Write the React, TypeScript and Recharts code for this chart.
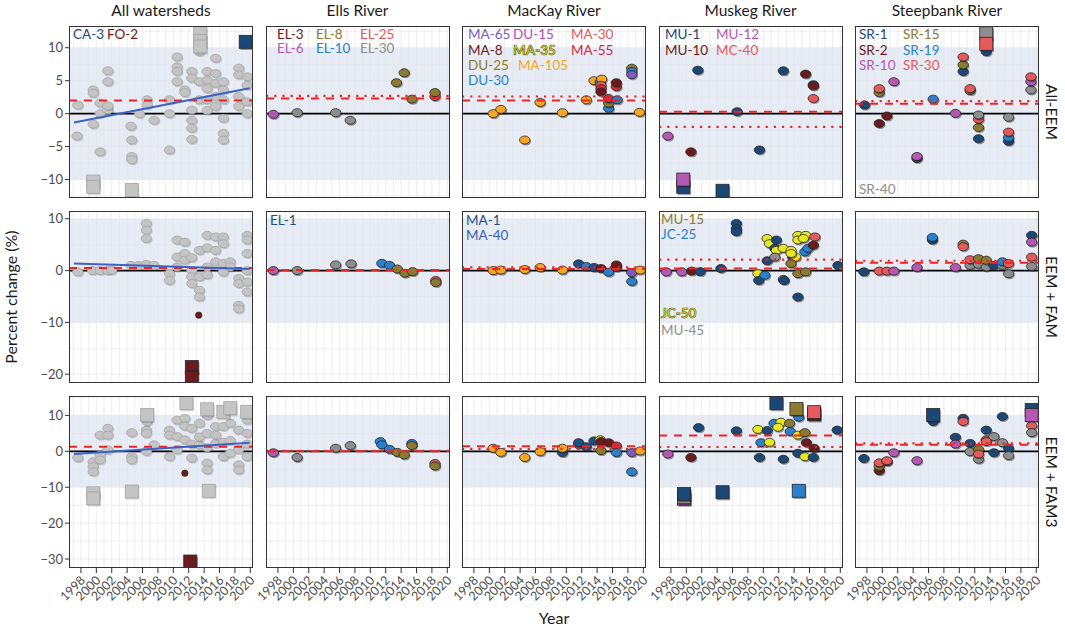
import React from 'react';
import { ScatterChart, Scatter, XAxis, YAxis, CartesianGrid, ReferenceLine, ReferenceArea } from 'recharts';

type Pt = [number, number, string, string?];

// ---------- categories / ticks ----------
const columnTitles = ['All watersheds', 'Ells River', 'MacKay River', 'Muskeg River', 'Steepbank River'];
const rowTitles = ['All-EEM', 'EEM + FAM', 'EEM + FAM3'];
const yearTicks = [1998, 2000, 2002, 2004, 2006, 2008, 2010, 2012, 2014, 2016, 2018, 2020];
const yearGrid = [1997, 1998, 1999, 2000, 2001, 2002, 2003, 2004, 2005, 2006, 2007, 2008, 2009, 2010, 2011, 2012, 2013, 2014, 2015, 2016, 2017, 2018, 2019, 2020];
const rowTicks = [[-10, -5, 0, 5, 10], [-20, -10, 0, 10], [-30, -20, -10, 0, 10]];
const rowMinor = [[-12.5, -7.5, -2.5, 2.5, 7.5, 12.5], [-15, -5, 5], [-25, -15, -5, 5, 15]];
const rowDomains: [number, number][] = [[-12.8, 13.3], [-21.7, 11.5], [-32.5, 15.4]];
const xDomain: [number, number] = [1996.45, 2020.35];

// ---------- reference values ----------
const dashedMeans = [[2.0, 2.3, 2.0, 0.3, 1.5], [0.5, 0.1, 0.3, 0.4, 1.5], [1.3, 0.0, 1.4, 4.4, 1.8]];
const dottedMeans: (number | null)[][] = [[null, 2.7, 2.6, -2.0, 1.9], [null, null, 0.6, 2.1, 1.9], [null, 0.1, 0.7, 1.2, 2.2]];
const trendStart = [[1997.1, -1.35], [1997.1, 1.35], [1997.1, -0.75]];
const trendEnd = [[2019.9, 3.85], [2019.9, 0.3], [2019.9, 2.4]];

// ---------- All watersheds (gray) ----------
const allEemGray = [[1997.6, 1.3], [1997.5, -3.4], [1999.6, 3.6], [1999.6, 3.1], [1999.6, -1.6], [2000.5, 1.6], [2000.5, -5.8], [2000.5, 0], [2001.5, 6.5], [2001.5, 4.85], [2001.5, 0.55], [2001.5, 1.2], [2004.5, -1.9], [2004.6, -4.0], [2004.6, -6.5], [2004.6, -7.0], [2005.6, 0], [2006.6, 2.1], [2006.6, 1.3], [2007.5, -1.0], [2009.5, 0], [2009.5, 2.1], [2009.5, -5.5], [2010.5, 8.6], [2010.5, 7.1], [2010.5, 6.4], [2010.5, 4.85], [2011.5, 3.6], [2011.5, 3.2], [2012.4, 6.4], [2012.4, 5.4], [2012.4, 0.55], [2012.4, -1.0], [2012.4, -2.2], [2012.4, -3.9], [2013.4, 9.4], [2013.4, 4.85], [2013.4, 2.1], [2014.4, 6.4], [2014.4, 5.1], [2014.4, 3.8], [2014.4, 2.1], [2014.4, 0.5], [2015.5, 8.4], [2015.5, 6.1], [2015.5, 4.6], [2015.5, 2.6], [2015.5, 1.1], [2016.5, 4.85], [2016.5, 3.6], [2016.5, 2.1], [2016.5, -0.7], [2016.5, -3.0], [2016.5, -4.0], [2018.5, 6.9], [2018.5, 5.9], [2018.5, 2.6], [2018.5, 1.1], [2019.6, 5.6], [2019.6, 4.3], [2019.6, 1.8], [2019.6, 0]];
const allEemGraySq = [[2013.5, 12.2], [2013.5, 11.0], [2013.5, 10.2], [1999.6, -10.3], [1999.6, -11.1], [2004.6, -11.6]];
const allEemSites: Pt[] = [[2019.4, 10.9, 'CA-3', 's']];

const allFamGray = [[1997.6, -0.25], [1999.5, 0], [2000.5, 0], [2001.5, 0], [2002.0, 0.1], [2004.5, 1.0], [2005.5, 1.0], [2006.5, 1.2], [2007.5, 1.0], [2006.5, 9.1], [2006.5, 7.8], [2006.5, 6.2], [2009.5, -0.6], [2009.5, -1.9], [2010.5, 5.9], [2010.5, 2.6], [2010.5, 0.7], [2011.5, 5.5], [2011.5, 3.3], [2011.5, 2.0], [2012.4, 0], [2012.4, -1.2], [2012.4, -2.5], [2012.4, 2.5], [2013.4, 3.9], [2013.4, -1.2], [2013.4, -3.8], [2013.4, -5.1], [2014.4, 6.8], [2014.4, 4.4], [2014.4, 0.7], [2014.4, -0.8], [2015.5, 6.5], [2015.5, 3.9], [2015.5, 1.7], [2016.5, 6.5], [2016.5, 5.2], [2016.5, 1.35], [2016.5, -0.3], [2017.4, 1.7], [2017.4, 0.7], [2018.5, -1.5], [2018.5, -2.5], [2018.5, -6.7], [2018.5, -7.4], [2019.6, 6.8], [2019.6, 5.9], [2019.6, 3.3], [2019.6, 0], [2019.6, -2.2], [2019.6, -4.1]];
const allFamSites: Pt[] = [[2013.3, -8.6, 'FO-2', 'd'], [2012.4, -18.6, 'FO-2', 's'], [2012.4, -20.6, 'FO-2', 's']];

const allFam3Gray = [[1997.6, -1.8], [1999.6, -2.9], [1999.6, -4.3], [1999.6, -5.7], [2000.5, 4.5], [2000.5, -1.0], [2000.5, -2.4], [2001.5, 6.4], [2001.5, 4.5], [2001.5, 0.4], [2004.6, 5.2], [2004.6, -1.5], [2004.6, -2.4], [2006.5, 5.9], [2006.5, 5.0], [2006.5, 0], [2007.5, 1.8], [2006.6, 8.3], [2009.5, 5.9], [2009.5, 4.5], [2009.5, -1.5], [2010.5, 8.7], [2010.5, 4.1], [2010.5, 0.4], [2011.5, 9.2], [2011.5, 3.2], [2011.5, 7.0], [2012.4, 6.4], [2012.4, -1.9], [2012.4, 2.0], [2013.4, 7.8], [2013.4, 1.8], [2013.4, 4.0], [2014.4, 10.0], [2014.4, 5.0], [2014.4, -3.3], [2014.4, -5.2], [2014.4, 1.0], [2015.5, 6.9], [2015.5, 2.2], [2015.5, 4.5], [2016.5, 6.9], [2016.5, -1.5], [2016.5, 2.5], [2017.4, 7.8], [2017.4, -0.55], [2017.4, 3.0], [2018.5, 5.9], [2018.5, -3.8], [2018.5, -5.2], [2018.5, 0.5], [2019.6, 8.7], [2019.6, 5.0], [2019.6, -1.5], [2019.6, 2.0]];
const allFam3GraySq = [[2006.6, 10.1], [2011.7, 13.4], [2014.4, 11.7], [2016.5, 11.0], [2017.4, 12.0], [2019.6, 11.0], [1999.6, -11.7], [1999.6, -13.1], [2004.6, -11.2], [2014.6, -11.0]];
const allFam3Sites: Pt[] = [[2011.5, -6.1, 'FO-2', 'd'], [2012.2, -30.7, 'FO-2', 's']];

// ---------- Ells River ----------
const ellsEem: Pt[] = [[1997.4, -0.1, 'EL-6'], [2000.5, 0.15, 'EL-30'], [2005.5, 0.15, 'EL-30'], [2007.4, -1.0, 'EL-30'], [2013.4, 4.7, 'EL-8'], [2014.4, 6.2, 'EL-8'], [2015.4, 2.2, 'EL-8'], [2018.4, 2.6, 'EL-25'], [2018.4, 3.2, 'EL-8']];
const ellsFam: Pt[] = [[1997.4, 0, 'EL-6'], [2000.5, 0, 'EL-30'], [2005.5, 1.1, 'EL-30'], [2007.5, 1.3, 'EL-30'], [2011.5, 1.4, 'EL-10'], [2012.5, 1.0, 'EL-10'], [2013.5, 0.3, 'EL-8'], [2014.5, -0.5, 'EL-8'], [2015.5, -0.2, 'EL-8'], [2018.5, -1.9, 'EL-25'], [2018.5, -2.3, 'EL-8']];
const ellsFam3: Pt[] = [[1997.4, -0.4, 'EL-6'], [2000.5, -1.7, 'EL-30'], [2005.5, 0.85, 'EL-30'], [2007.4, 1.6, 'EL-30'], [2011.3, 2.7, 'EL-10'], [2011.5, 1.8, 'EL-10'], [2012.5, 0.55, 'EL-10'], [2013.5, -0.3, 'EL-8'], [2014.4, -1.0, 'EL-8'], [2015.4, 2.2, 'EL-10'], [2015.4, 1.6, 'EL-8'], [2018.4, -3.4, 'EL-25'], [2018.4, -4.1, 'EL-8']];

// ---------- MacKay River ----------
const mackayEem: Pt[] = [[2000.5, 0, 'MA-105'], [2001.5, 0.65, 'MA-105'], [2004.6, -4.0, 'MA-105'], [2006.6, 1.7, 'MA-105'], [2009.5, 0.15, 'MA-105'], [2012.6, 2.1, 'MA-105'], [2013.6, 5.0, 'MA-105'], [2014.4, 4.8, 'DU-30'], [2014.6, 5.25, 'MA-105'], [2014.5, 4.3, 'MA-30'], [2014.5, 3.8, 'MA-55'], [2014.5, 3.3, 'MA-8'], [2015.5, 0.8, 'DU-30'], [2015.5, 1.6, 'DU-25'], [2015.5, 2.3, 'MA-55'], [2016.6, 2.1, 'DU-30'], [2016.5, 4.1, 'MA-55'], [2016.5, 4.7, 'MA-8'], [2018.5, 6.9, 'DU-25'], [2018.5, 6.4, 'DU-30'], [2018.5, 5.9, 'MA-65'], [2019.5, 0.2, 'MA-105']];
const mackayFam: Pt[] = [[2000.5, 0, 'MA-105'], [2001.5, 0.1, 'MA-105'], [2004.6, 0.2, 'MA-105'], [2006.6, 0.6, 'MA-105'], [2009.5, 0.1, 'MA-105'], [2011.6, 1.3, 'MA-1'], [2012.6, 0.8, 'DU-30'], [2013.6, 0.6, 'MA-1'], [2014.5, 0.4, 'MA-8'], [2015.5, -0.3, 'DU-30'], [2016.5, 0.6, 'MA-55'], [2016.5, 1.1, 'MA-8'], [2018.5, -2.1, 'DU-30'], [2018.5, -0.4, 'MA-65'], [2019.6, 0.1, 'MA-105']];
const mackayFam3: Pt[] = [[2000.5, 0.85, 'MA-105'], [2001.5, -0.3, 'MA-105'], [2004.6, -1.7, 'MA-105'], [2006.6, -0.1, 'MA-105'], [2009.5, -0.35, 'MA-1'], [2009.5, 0.85, 'MA-105'], [2011.6, 1.9, 'DU-30'], [2011.6, 2.4, 'MA-1'], [2012.6, 1.3, 'MA-1'], [2013.6, 2.9, 'MA-1'], [2014.5, 0.2, 'DU-25'], [2014.4, 3.2, 'MA-35'], [2014.5, 2.7, 'MA-8'], [2015.5, 2.4, 'MA-8'], [2016.5, 1.5, 'MA-55'], [2016.5, -0.35, 'DU-30'], [2018.5, -0.35, 'MA-65'], [2018.5, -5.7, 'DU-30'], [2019.6, 0.1, 'MA-105']];

// ---------- Muskeg River ----------
const muskegEem: Pt[] = [[1997.6, -3.4, 'MU-12'], [2000.6, -5.8, 'MU-10'], [2001.5, 6.6, 'MU-1'], [2006.6, 0.3, 'MU-1'], [2009.5, -5.5, 'MU-1'], [2012.6, 6.5, 'MU-1'], [2015.5, 6.0, 'MU-10'], [2016.5, 4.4, 'MU-1'], [2016.5, 4.2, 'MU-10'], [2016.5, 2.3, 'MC-40'], [1999.6, -11.1, 'MU-1', 's'], [1999.6, -10.0, 'MU-12', 's'], [2004.7, -11.7, 'MU-1', 's']];
const muskegFam: Pt[] = [[1997.4, -0.25, 'MU-12'], [1999.4, -0.25, 'MU-12'], [2000.7, -0.1, 'MU-10'], [2001.8, -0.2, 'MU-1'], [2004.5, 0.4, 'MU-1'], [2006.5, 9.1, 'MU-1'], [2006.5, 8.1, 'MU-1'], [2006.5, 7.5, 'MU-1'], [2009.3, -0.6, 'JC-50'], [2009.4, -1.9, 'MU-1'], [2010.2, -0.9, 'JC-25'], [2010.5, 1.9, 'MU-1'], [2010.5, 6.2, 'JC-50'], [2010.8, 5.2, 'JC-50'], [2011.7, 5.9, 'MU-1'], [2011.5, 4.3, 'MU-1'], [2011.7, 3.9, 'JC-50'], [2011.5, 2.6, 'MU-45'], [2012.6, 4.3, 'JC-50'], [2012.6, -1.7, 'MU-45'], [2012.7, -1.9, 'MU-1'], [2013.8, 2.6, 'MU-1'], [2014.2, 2.6, 'JC-50'], [2013.6, 3.9, 'JC-50'], [2013.6, 3.3, 'JC-50'], [2013.6, 1.35, 'MU-15'], [2014.5, 6.8, 'JC-50'], [2014.5, 5.9, 'JC-50'], [2015.5, 6.8, 'JC-50'], [2015.2, 6.2, 'JC-50'], [2015.4, 3.6, 'JC-25'], [2015.8, 4.3, 'JC-25'], [2016.7, 6.5, 'MC-40'], [2016.5, 4.9, 'MU-10'], [2014.5, -0.6, 'MU-15'], [2015.5, -0.25, 'MU-15'], [2014.5, -5.1, 'MU-1'], [2019.7, 1.0, 'MU-1']];
const muskegFam3: Pt[] = [[1997.6, -0.75, 'MU-12'], [2000.6, -1.7, 'MU-10'], [2001.6, 6.6, 'MU-1'], [2006.5, 5.7, 'MU-1'], [2009.3, 6.1, 'JC-50'], [2010.5, 5.8, 'MU-1'], [2009.7, 2.4, 'JC-25'], [2010.8, 2.5, 'JC-50'], [2009.5, -1.7, 'MU-1'], [2011.4, 7.8, 'JC-25'], [2012.3, 8.1, 'JC-50'], [2011.9, 6.7, 'JC-50'], [2012.6, -2.2, 'MU-1'], [2014.6, 9.5, 'JC-25'], [2013.4, 7.8, 'MU-15'], [2013.5, 5.5, 'JC-25'], [2014.5, 4.5, 'JC-50'], [2015.4, 5.2, 'MU-15'], [2015.6, 2.4, 'MU-10'], [2014.5, -0.55, 'MU-1'], [2015.4, -1.5, 'JC-50'], [2016.5, -1.7, 'MU-1'], [2016.6, 0.85, 'MU-10'], [2019.6, 5.9, 'MU-1'], [2011.7, 13.4, 'MU-1', 's'], [2014.3, 11.8, 'MU-15', 's'], [2016.6, 10.3, 'MU-10', 's'], [2016.6, 10.9, 'MC-40', 's'], [1999.7, -13.2, 'MU-12', 's'], [1999.7, -12.8, 'MU-45', 's'], [1999.7, -11.9, 'MU-1', 's'], [2004.7, -11.4, 'MU-1', 's'], [2014.6, -11.0, 'JC-25', 's']];

// ---------- Steepbank River ----------
const steepEem: Pt[] = [[1997.7, 1.3, 'SR-1'], [1999.6, 3.2, 'SR-15'], [1999.6, 3.8, 'SR-30'], [1999.6, -1.5, 'SR-2'], [2000.6, -0.35, 'SR-2'], [2001.5, 4.85, 'SR-10'], [2004.5, -6.8, 'SR-1'], [2004.5, -6.5, 'SR-10'], [2006.6, 2.2, 'SR-19'], [2009.5, 0.05, 'SR-10'], [2010.5, 6.4, 'SR-1'], [2010.5, 7.4, 'SR-15'], [2010.5, 8.6, 'SR-30'], [2011.4, 3.5, 'SR-15'], [2011.4, 3.8, 'SR-30'], [2012.5, -3.8, 'SR-1'], [2012.5, -2.1, 'SR-15'], [2012.5, -0.85, 'SR-30'], [2012.5, -0.2, 'SR-40'], [2013.5, 9.4, 'SR-1'], [2013.5, 12.2, 'SR-40', 's'], [2013.5, 10.6, 'SR-30', 's'], [2016.4, -4.2, 'SR-1'], [2016.4, -3.6, 'SR-19'], [2016.4, -2.8, 'SR-30'], [2016.4, -0.55, 'SR-40'], [2019.3, 3.6, 'SR-40'], [2019.3, 4.85, 'SR-10'], [2019.3, 5.6, 'SR-30']];
const steepFam: Pt[] = [[1997.6, -0.25, 'SR-1'], [1999.6, -0.1, 'SR-30'], [2000.6, -0.1, 'SR-30'], [2001.5, -0.1, 'SR-10'], [2004.5, 0.6, 'SR-10'], [2006.5, 5.9, 'SR-1'], [2006.5, 6.4, 'SR-19'], [2009.5, 0.6, 'SR-10'], [2010.5, 5.1, 'SR-15'], [2010.5, 4.6, 'SR-30'], [2011.4, 1.0, 'SR-40'], [2011.4, 2.1, 'SR-30'], [2012.5, 1.2, 'SR-40'], [2012.5, 2.3, 'SR-15'], [2013.5, 0.7, 'SR-40'], [2013.5, 2.0, 'SR-15'], [2014.5, 1.0, 'SR-1'], [2015.6, 1.0, 'SR-40'], [2015.6, 1.7, 'SR-19'], [2016.4, -0.6, 'SR-40'], [2016.4, 1.35, 'SR-30'], [2019.4, 0.8, 'SR-40'], [2019.4, 2.6, 'SR-30'], [2019.4, 6.8, 'SR-1'], [2019.4, 5.5, 'SR-10']];
const steepFam3: Pt[] = [[1997.6, -2.0, 'SR-1'], [1999.6, -5.4, 'SR-2'], [1999.6, -4.2, 'SR-15'], [1999.6, -3.2, 'SR-30'], [2000.6, -2.9, 'SR-15'], [2000.6, -2.6, 'SR-30'], [2001.5, -0.4, 'SR-10'], [2004.5, -2.6, 'SR-10'], [2006.6, 8.3, 'SR-1'], [2006.6, 10.1, 'SR-1', 's'], [2010.5, 9.2, 'SR-1'], [2010.5, 8.3, 'SR-30'], [2009.5, 3.9, 'SR-1'], [2009.5, 2.0, 'SR-10'], [2011.4, 2.2, 'SR-1'], [2011.4, -0.1, 'SR-40'], [2012.5, -2.2, 'SR-40'], [2012.5, 0.5, 'SR-15'], [2012.5, -0.75, 'SR-30'], [2013.5, 5.9, 'SR-1'], [2013.5, 3.2, 'SR-15'], [2013.5, 2.7, 'SR-30'], [2014.5, 4.1, 'SR-40'], [2014.5, -0.4, 'SR-1'], [2015.6, 9.7, 'SR-1'], [2015.6, 2.4, 'SR-40'], [2016.4, 0.85, 'SR-1'], [2016.4, -1.2, 'SR-40'], [2019.4, 11.5, 'SR-1', 's'], [2019.4, 10.1, 'SR-10', 's'], [2019.4, 7.1, 'SR-30'], [2019.4, 5.2, 'SR-40']];

const siteColors: Record<string, string> = {
  ALL: '#c4c4c4', 'CA-3': '#1c4878', 'FO-2': '#6b1b1b',
  'EL-1': '#1f4f86', 'EL-3': '#6b1b1b', 'EL-8': '#8b7a2f', 'EL-25': '#e65a5c', 'EL-6': '#b558b3', 'EL-10': '#2a80cc', 'EL-30': '#8e8e8e',
  'MA-1': '#1f4f86', 'MA-40': '#3d5fb3', 'MA-65': '#7a5cbf', 'DU-15': '#b04fc1', 'MA-30': '#e65a5c', 'MA-8': '#6b1b1b', 'MA-35': '#e3e320', 'MA-55': '#d42a3c', 'DU-25': '#8b7a2f', 'MA-105': '#f7a623', 'DU-30': '#2a80cc',
  'MU-1': '#1c4878', 'MU-12': '#b558b3', 'MU-10': '#6b1b1b', 'MC-40': '#e65a5c', 'MU-15': '#8b7a2f', 'JC-25': '#2a80cc', 'JC-50': '#e8e820', 'MU-45': '#8e8e8e',
  'SR-1': '#1c4878', 'SR-15': '#8b7a2f', 'SR-2': '#6b1b1b', 'SR-19': '#2a80cc', 'SR-10': '#b558b3', 'SR-30': '#e65a5c', 'SR-40': '#8e8e8e',
};

const toPts = (arr: number[][], site: string, kind = 'c'): Pt[] => arr.map(([x, y]) => [x, y, site, kind]);

const panelData: Pt[][][] = [
  [[...toPts(allEemGray, 'ALL'), ...toPts(allEemGraySq, 'ALL', 's'), ...allEemSites], ellsEem, mackayEem, muskegEem, steepEem],
  [[...toPts(allFamGray, 'ALL'), ...allFamSites], ellsFam, mackayFam, muskegFam, steepFam],
  [[...toPts(allFam3Gray, 'ALL'), ...toPts(allFam3GraySq, 'ALL', 's'), ...allFam3Sites], ellsFam3, mackayFam3, muskegFam3, steepFam3],
];

// legend labels with placement
const legendLayout: [string, number, number][][][] = [
  [
    [['CA-3', 73, 34], ['FO-2', 107, 34]],
    [['EL-3', 277, 34], ['EL-8', 316, 34], ['EL-25', 360, 34], ['EL-6', 277, 48], ['EL-10', 316, 48], ['EL-30', 360, 48]],
    [['MA-65', 468, 34], ['DU-15', 513, 34], ['MA-30', 571, 34], ['MA-8', 468, 50], ['MA-35', 513, 50], ['MA-55', 571, 50], ['DU-25', 468, 65], ['MA-105', 518, 65], ['DU-30', 468, 80]],
    [['MU-1', 665, 34], ['MU-12', 716, 34], ['MU-10', 665, 50], ['MC-40', 716, 50]],
    [['SR-1', 859, 34], ['SR-15', 903, 34], ['SR-2', 859, 50], ['SR-19', 903, 50], ['SR-10', 859, 65], ['SR-30', 903, 65], ['SR-40', 859, 189]],
  ],
  [[], [['EL-1', 270, 220]], [['MA-1', 466, 220], ['MA-40', 466, 235]], [['MU-15', 661, 219], ['JC-25', 661, 234], ['JC-50', 661, 313], ['MU-45', 661, 330]], []],
  [[], [], [], [], []],
];

const FONT = 'Lato, "Open Sans", sans-serif';
const colLeft = [69, 265.5, 462, 658.5, 855];
const rowTop = [26, 211, 396];
const PW = 184;
const PH = 172;

const Marker = (props: any) => {
  const { cx, cy, payload } = props;
  if (cx == null || cy == null || !payload) return null;
  const site = payload.site;
  const kind = payload.kind;
  const fill = siteColors[site] || '#999';
  const gray = site === 'ALL';
  const stroke = gray ? '#a3a3a3' : '#262626';
  const sh = gray ? 0.18 : 0.45;
  if (kind === 's') {
    const h = 6.5;
    return (
      <g>
        <rect x={cx - h + 1.2} y={cy - h + 1.6} width={2 * h} height={2 * h} fill="#222" opacity={sh} />
        <rect x={cx - h} y={cy - h} width={2 * h} height={2 * h} fill={fill} stroke={stroke} strokeWidth={0.8} />
      </g>
    );
  }
  if (kind === 'd') {
    return <circle cx={cx} cy={cy} r={3.2} fill={fill} stroke="#222" strokeWidth={0.6} />;
  }
  return (
    <g>
      <ellipse cx={cx + 1.1} cy={cy + 1.5} rx={5.2} ry={4} fill="#222" opacity={sh} />
      <ellipse cx={cx} cy={cy} rx={5.2} ry={4} fill={fill} stroke={stroke} strokeWidth={0.8} />
    </g>
  );
};

const XTick = (props: any) => {
  const { x, y, payload } = props;
  const ex = x + 5;
  const ey = y + 6;
  return (
    <text x={ex} y={ey} transform={`rotate(-45 ${ex} ${ey})`} textAnchor="end" fontSize={12.5} fill="#4d4d4d" fontFamily={FONT}>
      {payload.value}
    </text>
  );
};

const fmtY = (v: number) => (v < 0 ? '\u2212' + Math.abs(v) : String(v));

function Panel({ r, c }: { r: number; c: number }) {
  const yW = c === 0 ? 45 : 0;
  const xH = r === 2 ? 45 : 0;
  const mL = r === 2 ? 30 : 0;
  const mR = r === 2 ? 12 : 0;
  const data = panelData[r][c].map(([x, y, site, kind]) => ({ x, y, site, kind: kind || 'c' }));
  const dashed = dashedMeans[r][c];
  const dotted = dottedMeans[r][c];
  const lineProps: any = { zIndex: 1000 };
  return (
    <div style={{ position: 'absolute', left: colLeft[c] - yW - mL, top: rowTop[r] }}>
      <ScatterChart width={PW + yW + mL + mR} height={PH + xH} margin={{ top: 0, right: mR, bottom: 0, left: mL }}>
        <CartesianGrid
          horizontalValues={[...rowTicks[r], ...rowMinor[r]]}
          verticalValues={yearGrid}
          stroke="#e6e6e6"
          strokeWidth={0.7}
        />
        <XAxis
          type="number"
          dataKey="x"
          domain={xDomain}
          allowDataOverflow
          ticks={yearTicks}
          interval={0}
          hide={r !== 2}
          height={xH}
          tick={<XTick />}
          tickLine={{ stroke: '#333' }}
          tickSize={5}
          axisLine={false}
        />
        <YAxis
          type="number"
          dataKey="y"
          domain={rowDomains[r]}
          allowDataOverflow
          ticks={rowTicks[r]}
          interval={0}
          hide={c !== 0}
          width={yW}
          tickFormatter={fmtY}
          tick={{ fill: '#4d4d4d', fontSize: 13, fontFamily: FONT }}
          tickLine={{ stroke: '#333' }}
          tickSize={4}
          axisLine={false}
        />
        <ReferenceArea x1={xDomain[0]} x2={xDomain[1]} y1={-10} y2={10} fill="#dde3f0" fillOpacity={0.72} stroke="none" />
        <ReferenceLine y={0} stroke="#000" strokeWidth={1.8} />
        <Scatter data={data} shape={Marker} isAnimationActive={false} />
        {dotted !== null && <ReferenceLine y={dotted} stroke="#ee2424" strokeWidth={2.2} strokeDasharray="2.2 6" {...lineProps} />}
        <ReferenceLine y={dashed} stroke="#ee2424" strokeWidth={2} strokeDasharray="8 7" {...lineProps} />
        {c === 0 && (
          <ReferenceLine
            segment={[{ x: trendStart[r][0], y: trendStart[r][1] }, { x: trendEnd[r][0], y: trendEnd[r][1] }]}
            stroke="#3d62c4"
            strokeWidth={2}
            {...lineProps}
          />
        )}
      </ScatterChart>
      <div style={{ position: 'absolute', left: yW + mL, top: 0, width: PW, height: PH, border: '1.3px solid #333', boxSizing: 'border-box', pointerEvents: 'none' }} />
    </div>
  );
}

export default function App() {
  const panels = [];
  for (let r = 0; r < 3; r++) for (let c = 0; c < 5; c++) panels.push(<Panel key={`${r}-${c}`} r={r} c={c} />);
  const legends = [];
  legendLayout.forEach((row, r) =>
    row.forEach((cell, c) =>
      cell.forEach(([label, x, y]) => {
        const yellow = label === 'MA-35' || label === 'JC-50';
        legends.push(
          <div
            key={`${r}-${c}-${label}`}
            style={{
              position: 'absolute', left: x, top: y - 8, fontSize: 13.5, lineHeight: '16px', color: siteColors[label],
              fontFamily: FONT, whiteSpace: 'nowrap',
              WebkitTextStroke: yellow ? '0.7px #6a6a2a' : undefined, fontWeight: yellow ? 700 : 400,
            }}
          >
            {label}
          </div>
        );
      })
    )
  );
  return (
    <div style={{ position: 'absolute', left: 0, top: 0, width: 1065, height: 631, background: '#fff', fontFamily: FONT, overflow: 'hidden' }}>
      {panels}
      {legends}
      {columnTitles.map((t, c) => (
        <div key={t} style={{ position: 'absolute', left: colLeft[c], top: 1, width: PW, textAlign: 'center', fontSize: 15.5, color: '#1a1a1a' }}>{t}</div>
      ))}
      {rowTitles.map((t, r) => (
        <div key={t} style={{ position: 'absolute', left: 1052 - 80, top: rowTop[r] + PH / 2 - 10, width: 160, height: 20, lineHeight: '20px', textAlign: 'center', fontSize: 15.5, color: '#1a1a1a', transform: 'rotate(90deg)' }}>{t}</div>
      ))}
      <div style={{ position: 'absolute', left: 11 - 100, top: 297 - 10, width: 200, height: 20, lineHeight: '20px', textAlign: 'center', fontSize: 16, color: '#1a1a1a', transform: 'rotate(-90deg)' }}>Percent change (%)</div>
      <div style={{ position: 'absolute', left: 554 - 50, top: 608, width: 100, textAlign: 'center', fontSize: 16, color: '#1a1a1a' }}>Year</div>
    </div>
  );
}
